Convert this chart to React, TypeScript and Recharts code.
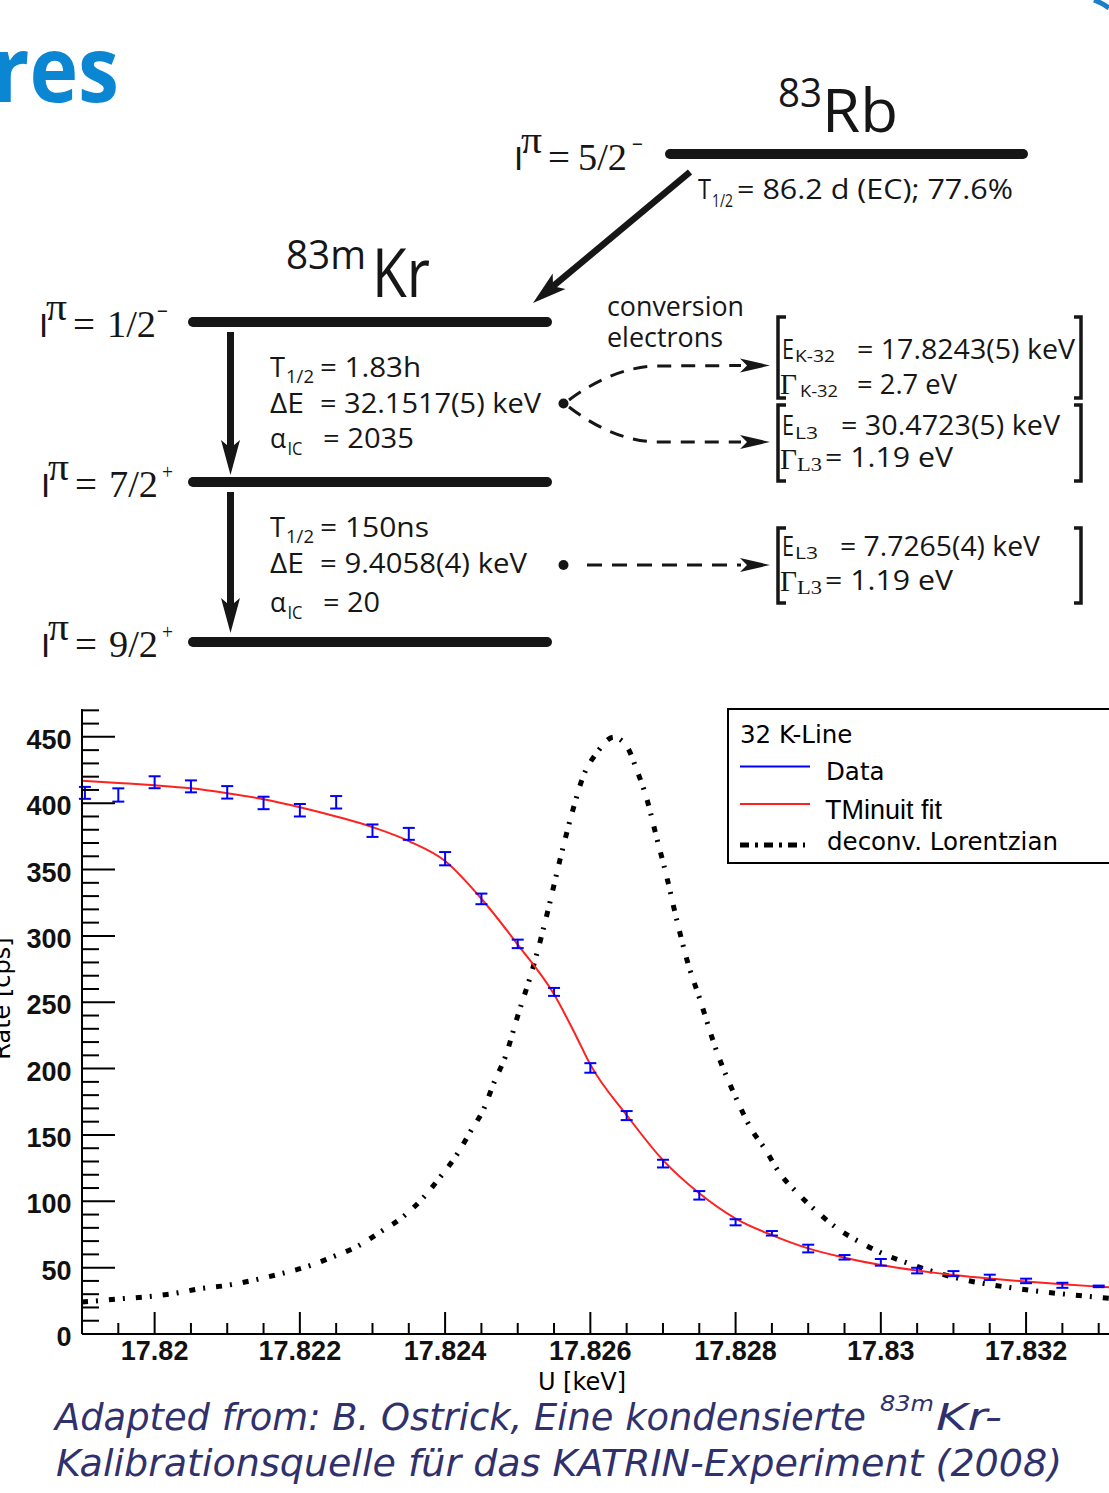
import React from 'react';
import { ComposedChart, Line, Scatter, ErrorBar, XAxis, YAxis, Legend } from 'recharts';

// ---------------- chart data ----------------
const X_MIN = 17.819;
const X_MAX = 17.8335;
const Y_MAX = 471;

const dataU = [17.81904, 17.8195, 17.82, 17.8205, 17.821, 17.8215, 17.822, 17.8225, 17.823, 17.8235, 17.824, 17.8245, 17.825, 17.8255, 17.826, 17.8265, 17.827, 17.8275, 17.828, 17.8285, 17.829, 17.8295, 17.83, 17.8305, 17.831, 17.8315, 17.832, 17.8325, 17.833];
const dataRate = [407.8, 406.2, 415.8, 412.7, 408.2, 400.2, 394.7, 400.7, 379.3, 376.9, 358.2, 327.9, 294.0, 257.8, 200.5, 164.6, 128.4, 104.5, 84.2, 75.9, 64.4, 57.8, 54.0, 47.8, 45.5, 42.7, 40.0, 36.7, 35.9];
const dataErr = [4.5, 5.0, 4.5, 4.5, 4.7, 4.7, 4.7, 4.7, 4.7, 4.5, 5.0, 4.0, 3.2, 3.0, 3.6, 3.4, 2.9, 3.2, 2.3, 1.7, 2.9, 1.7, 2.5, 2.1, 1.9, 2.0, 1.7, 1.9, 0.6];

const fitU = [17.819, 17.8195, 17.82, 17.8205, 17.821, 17.8215, 17.822, 17.8225, 17.823, 17.8235, 17.824, 17.8245, 17.825, 17.8255, 17.8258, 17.826, 17.8265, 17.827, 17.8275, 17.828, 17.8285, 17.829, 17.8295, 17.83, 17.8305, 17.831, 17.8315, 17.832, 17.8325, 17.833, 17.8335];
const fitRate = [417, 415.3, 413.5, 411.2, 407.5, 403, 397, 390, 382, 371.5, 356.5, 328, 293.5, 256, 225, 203, 165, 131, 106, 87, 74.5, 64.5, 57.5, 52, 47.8, 44.5, 41.8, 39.5, 37.5, 35.7, 34.3];

const lorU = [17.819, 17.81912, 17.8195, 17.81987, 17.82025, 17.82061, 17.82098, 17.82136, 17.82173, 17.82207, 17.82245, 17.82279, 17.8231, 17.82343, 17.8237, 17.82394, 17.82416, 17.82435, 17.82454, 17.82468, 17.82483, 17.82499, 17.82522, 17.82542, 17.82558, 17.82576, 17.8259, 17.82609, 17.82632, 17.8265, 17.82664, 17.82678, 17.82692, 17.82705, 17.82719, 17.82733, 17.82751, 17.82774, 17.82803, 17.82821, 17.82841, 17.82861, 17.82886, 17.82913, 17.82941, 17.82973, 17.83006, 17.83043, 17.83078, 17.83118, 17.83153, 17.83191, 17.83231, 17.83266, 17.83303, 17.8335];
const lorRate = [24.2, 24.6, 26.4, 28, 30.4, 34, 36.5, 40.5, 45.3, 50.3, 58.1, 66, 76.6, 88.7, 102.8, 118.8, 135, 152.7, 170.5, 190.4, 209, 238, 278, 320, 357, 395, 420, 438, 449.7, 443, 425, 402.7, 372.6, 345, 312, 282, 252, 213, 175, 155, 139, 121, 105.8, 91.7, 79.2, 68.7, 59.8, 52.3, 46, 40.5, 37, 34, 31.3, 29.4, 27.5, 25.5];

const xTicks = [17.819, 17.8195, 17.82, 17.8205, 17.821, 17.8215, 17.822, 17.8225, 17.823, 17.8235, 17.824, 17.8245, 17.825, 17.8255, 17.826, 17.8265, 17.827, 17.8275, 17.828, 17.8285, 17.829, 17.8295, 17.83, 17.8305, 17.831, 17.8315, 17.832, 17.8325, 17.833, 17.8335];
const xMajorTicks = [17.82, 17.822, 17.824, 17.826, 17.828, 17.83, 17.832];
const xMajorLabels = ['17.82', '17.822', '17.824', '17.826', '17.828', '17.83', '17.832'];
const yTicks = [0, 10, 20, 30, 40, 50, 60, 70, 80, 90, 100, 110, 120, 130, 140, 150, 160, 170, 180, 190, 200, 210, 220, 230, 240, 250, 260, 270, 280, 290, 300, 310, 320, 330, 340, 350, 360, 370, 380, 390, 400, 410, 420, 430, 440, 450, 460, 470];
const yMajorTicks = [0, 50, 100, 150, 200, 250, 300, 350, 400, 450];
const yMajorLabels = ['0', '50', '100', '150', '200', '250', '300', '350', '400', '450'];

const legendTitle = '32 K-Line';
const seriesNames = ['Data', 'TMinuit fit', 'deconv. Lorentzian'];
const xAxisTitle = 'U [keV]';
const yAxisTitle = 'Rate [cps]';

const pointData = dataU.map((u, i) => ({ u, r: dataRate[i], e: dataErr[i] }));
const fitData = fitU.map((u, i) => ({ u, r: fitRate[i] }));
const lorData = lorU.map((u, i) => ({ u, r: lorRate[i] }));

// ---------------- styles ----------------
const OPEN = "'Open Sans', 'DejaVu Sans', sans-serif";
const SERIF = "'Liberation Serif', 'DejaVu Serif', serif";
const LSANS = "'Liberation Sans', Arial, sans-serif";
const DJV = "'DejaVu Sans', sans-serif";
const INK = '#161616';
const FOOT = '#30316c';
const BLUE = '#0000ff';
const RED = '#ff2020';

const X_TICK_MARGIN = 4;
const Y_TICK_MARGIN = 10;

const renderXTick = (props: any) => {
  const { x, y, payload } = props;
  const axisY = y - X_TICK_MARGIN;
  const idx = xMajorTicks.findIndex((m) => Math.abs(m - payload.value) < 1e-7);
  const major = idx >= 0;
  return (
    <g>
      <line x1={x} x2={x} y1={axisY} y2={axisY - (major ? 22 : 11)} stroke="#000" strokeWidth={2} />
      {major && (
        <text x={x} y={axisY + 25.5} textAnchor="middle" fontFamily={LSANS} fontWeight="bold" fontSize={27} fill="#111">
          {xMajorLabels[idx]}
        </text>
      )}
    </g>
  );
};

const renderYTick = (props: any) => {
  const { x, y, payload } = props;
  const axisX = x + Y_TICK_MARGIN;
  const idx = yMajorTicks.findIndex((m) => Math.abs(m - payload.value) < 1e-7);
  const major = idx >= 0;
  return (
    <g>
      <line x1={axisX} x2={axisX + (major ? 33 : 17)} y1={y} y2={y} stroke="#000" strokeWidth={2} />
      {major && (
        <text x={axisX - 10.5} y={y + 12} textAnchor="end" fontFamily={LSANS} fontWeight="bold" fontSize={27} fill="#111">
          {yMajorLabels[idx]}
        </text>
      )}
    </g>
  );
};

const XTitle = (props: any) => {
  const vb = props.viewBox || { x: 82, y: 644 };
  return (
    <text x={vb.x + 500} y={vb.y + 56} textAnchor="middle" fontFamily={DJV} fontSize={24} fill="#000">
      {xAxisTitle}
    </text>
  );
};

const YTitle = (props: any) => {
  const vb = props.viewBox || { x: 0, y: 19, height: 625 };
  const cy = vb.y + vb.height / 2 - 23;
  return (
    <text transform={`translate(${vb.x + 10},${cy}) rotate(-90)`} textAnchor="middle" fontFamily={DJV} fontSize={24} fill="#000">
      {yAxisTitle}
    </text>
  );
};

const EmptyShape = () => <g />;

const renderLegend = () => (
  <svg width={420} height={160} style={{ display: 'block' }}>
    <rect x={1} y={1} width={440} height={154} fill="#fff" stroke="#000" strokeWidth={2} />
    <text x={13} y={35} fontFamily={DJV} fontSize={24.5} fill="#000">{legendTitle}</text>
    <line x1={13} x2={83} y1={58.5} y2={58.5} stroke={BLUE} strokeWidth={2} />
    <text x={99} y={72} fontFamily={DJV} fontSize={24.5} fill="#000">{seriesNames[0]}</text>
    <line x1={13} x2={83} y1={96} y2={96} stroke={RED} strokeWidth={2} />
    <text x={98} y={111} fontFamily={LSANS} fontSize={27} fill="#000">{seriesNames[1]}</text>
    <line x1={13} x2={78} y1={137} y2={137} stroke="#000" strokeWidth={5} strokeDasharray="9 6 3 6" />
    <text x={100} y={142} fontFamily={DJV} fontSize={24.5} fill="#000">{seriesNames[2]}</text>
  </svg>
);

// ---------------- decay scheme ----------------
type TP = { x: number; y: number; s: number; w?: number; f?: string; c?: string; t: string; it?: boolean; b?: boolean; a?: 'start' | 'middle' | 'end' };
const T = ({ x, y, s, w, f = OPEN, c = INK, t, it, b, a }: TP) => (
  <text
    x={x}
    y={y}
    fontSize={s}
    fontFamily={f}
    fill={c}
    fontStyle={it ? 'italic' : undefined}
    fontWeight={b ? 'bold' : undefined}
    textAnchor={a}
    textLength={w}
    lengthAdjust={w ? 'spacingAndGlyphs' : undefined}
  >
    {t}
  </text>
);

const Spin = ({ x, y, frac, sign, fx = 68 }: { x: number; y: number; frac: string; sign: string; fx?: number }) => (
  <g>
    <T x={x} y={y} s={33} f={LSANS} t="I" />
    <T x={x + 7} y={y - 17} s={37} f={SERIF} t="π" w={21} />
    <T x={x + 34} y={y} s={37} f={SERIF} t="=" w={22} />
    <T x={x + fx} y={y} s={37} f={SERIF} t={frac} w={49} />
    {sign === '+' ? (
      <T x={x + 121} y={y - 18} s={20} f={SERIF} t="+" w={11} />
    ) : (
      <T x={x + 118} y={y - 16.5} s={30} f={SERIF} t="−" w={11} />
    )}
  </g>
);

const Level = ({ x1, x2, y }: { x1: number; x2: number; y: number }) => (
  <line x1={x1} x2={x2} y1={y} y2={y} stroke={INK} strokeWidth={10} strokeLinecap="round" />
);

const VArrow = ({ x, y1, y2 }: { x: number; y1: number; y2: number }) => (
  <g>
    <line x1={x} x2={x} y1={y1} y2={y2 - 26} stroke={INK} strokeWidth={7} />
    <path d={`M${x},${y2} L${x - 9.5},${y2 - 35} L${x},${y2 - 27} L${x + 9.5},${y2 - 35} Z`} fill={INK} />
  </g>
);

const Stealth = ({ x, y }: { x: number; y: number }) => (
  <path d={`M${x},${y} L${x - 30},${y - 7} L${x - 23},${y} L${x - 30},${y + 7} Z`} fill={INK} />
);

const Bracket = ({ y1, y2 }: { y1: number; y2: number }) => (
  <g stroke={INK} strokeWidth={3.5} fill="none">
    <path d={`M786,${y1} L778,${y1} L778,${y2} L786,${y2}`} />
    <path d={`M1074,${y1} L1081,${y1} L1081,${y2} L1074,${y2}`} />
  </g>
);

const Diagram = () => (
  <svg width={1109} height={690} style={{ position: 'absolute', left: 0, top: 0 }}>
    <T x={-8} y={102} s={92} f={OPEN} b c="#0a86d2" t="res" w={127} />
    <path d="M1094,0 Q1102,3 1109,8" stroke="#1a7fc8" strokeWidth={5} fill="none" />

    {/* 83Rb */}
    <T x={778} y={107} s={40} t="83" w={44} />
    <T x={822} y={132} s={60} t="Rb" w={76} />
    <Level x1={670} x2={1023} y={154} />
    <Spin x={514} y={170} frac="5/2" sign="-" fx={64} />
    <T x={698} y={199} s={28} t="T" w={13} />
    <T x={712} y={207} s={18} t="1/2" w={21} />
    <T x={737} y={199} s={28} t="= 86.2 d (EC); 77.6%" w={276} />
    <line x1={690} y1={172} x2={553} y2={286.3} stroke={INK} strokeWidth={6.5} />
    <path d="M533,303 L565.5,288.9 L553,286.3 L552.7,273.5 Z" fill={INK} />

    {/* 83mKr */}
    <T x={286} y={269} s={40} t="83m" w={80} />
    <T x={372} y={297} s={68} t="Kr" w={58} />
    <Level x1={193} x2={547} y={322} />
    <Level x1={193} x2={547} y={482} />
    <Level x1={193} x2={547} y={642} />
    <Spin x={39} y={337} frac="1/2" sign="-" />
    <Spin x={41} y={497} frac="7/2" sign="+" />
    <Spin x={41} y={657} frac="9/2" sign="+" />

    <VArrow x={230.5} y1={332} y2={475} />
    <VArrow x={230.5} y1={492} y2={633} />

    {/* transition 1 */}
    <T x={270} y={377} s={27} t="T" w={15} />
    <T x={286} y={383} s={19} t="1/2" w={28} />
    <T x={320} y={377} s={27} t="= 1.83h" w={101} />
    <T x={270} y={413} s={27} t="ΔE" w={34} />
    <T x={320} y={413} s={27} t="= 32.1517(5) keV" w={221} />
    <T x={270} y={448} s={27} t="α" w={16} />
    <T x={287.5} y={455} s={18} t="IC" w={15} />
    <T x={323} y={448} s={27} t="= 2035" w={91} />

    {/* transition 2 */}
    <T x={270} y={537} s={27} t="T" w={15} />
    <T x={286} y={543} s={19} t="1/2" w={28} />
    <T x={320} y={537} s={27} t="= 150ns" w={109} />
    <T x={270} y={573} s={27} t="ΔE" w={34} />
    <T x={320} y={573} s={27} t="= 9.4058(4) keV" w={207} />
    <T x={270} y={612} s={27} t="α" w={16} />
    <T x={287.5} y={619} s={18} t="IC" w={15} />
    <T x={323} y={612} s={27} t="= 20" w={57} />

    {/* conversion electrons */}
    <T x={607} y={316} s={27} t="conversion" w={137} />
    <T x={607} y={347} s={27} t="electrons" w={116} />
    <circle cx={563.5} cy={403.5} r={5} fill={INK} />
    <path d="M569,400 Q612,368 655,366 L741,365.5" stroke={INK} strokeWidth={3} fill="none" strokeDasharray="14 10" />
    <path d="M569,407 Q612,440 655,442 L741,442" stroke={INK} strokeWidth={3} fill="none" strokeDasharray="14 10" />
    <Stealth x={770} y={365.5} />
    <Stealth x={770} y={442} />
    <circle cx={563.5} cy={565} r={5} fill={INK} />
    <path d="M587,565 L741,565" stroke={INK} strokeWidth={3} fill="none" strokeDasharray="15 10" />
    <Stealth x={770} y={565} />

    {/* line parameters */}
    <Bracket y1={317} y2={398} />
    <T x={782} y={358.5} s={27} t="E" w={12} />
    <T x={795} y={362} s={17} t="K-32" w={40} />
    <T x={857} y={358.5} s={27} t="= 17.8243(5) keV" w={218} />
    <T x={780} y={394} s={30} f={SERIF} t="Γ" w={17} />
    <T x={800} y={397} s={17} t="K-32" w={38} />
    <T x={857} y={393.5} s={27} t="= 2.7 eV" w={100} />

    <Bracket y1={405} y2={481} />
    <T x={782} y={435} s={27} t="E" w={12} />
    <T x={795} y={439} s={17} t="L3" w={23} />
    <T x={841} y={435} s={27} t="= 30.4723(5) keV" w={219} />
    <T x={780} y={468.5} s={30} f={SERIF} t="Γ" w={17} />
    <T x={797} y={471} s={18} f={SERIF} t="L3" w={25} />
    <T x={825} y={467} s={27} t="= 1.19 eV" w={128} />

    <Bracket y1={528} y2={603} />
    <T x={782} y={555.5} s={27} t="E" w={12} />
    <T x={795} y={559} s={17} t="L3" w={23} />
    <T x={840} y={555.5} s={27} t="= 7.7265(4) keV" w={200} />
    <T x={780} y={591} s={30} f={SERIF} t="Γ" w={17} />
    <T x={797} y={594} s={18} f={SERIF} t="L3" w={25} />
    <T x={825} y={590} s={27} t="= 1.19 eV" w={128} />
  </svg>
);

const Footer = () => (
  <svg width={1109} height={103} style={{ position: 'absolute', left: 0, top: 1390 }}>
    <T x={55} y={40} s={38} f={DJV} it c={FOOT} t="Adapted from: B. Ostrick, Eine kondensierte" w={811} />
    <T x={880} y={21} s={21} f={DJV} it c={FOOT} t="83m" w={54} />
    <T x={936} y={40} s={38} f={DJV} it c={FOOT} t="Kr-" w={66} />
    <T x={56} y={86} s={38} f={DJV} it c={FOOT} t="Kalibrationsquelle für das KATRIN-Experiment (2008)" w={1006} />
  </svg>
);

export default function App() {
  return (
    <div style={{ position: 'absolute', left: 0, top: 0, width: 1109, height: 1493, overflow: 'hidden', background: '#fff' }}>
      <Diagram />
      <div style={{ position: 'absolute', left: 0, top: 690 }}>
        <ComposedChart width={1160} height={705} margin={{ top: 19, right: 25, bottom: 0, left: 0 }}>
          <XAxis
            xAxisId="top"
            orientation="top"
            type="number"
            dataKey="u"
            domain={[X_MIN, X_MAX]}
            allowDataOverflow
            tick={false}
            tickLine={false}
            axisLine={{ stroke: '#000', strokeWidth: 2 }}
            height={0}
          />
          <XAxis
            type="number"
            dataKey="u"
            domain={[X_MIN, X_MAX]}
            allowDataOverflow
            ticks={xTicks}
            interval={0}
            tickSize={0}
            tickMargin={X_TICK_MARGIN}
            tick={renderXTick}
            tickLine={false}
            axisLine={{ stroke: '#000', strokeWidth: 2 }}
            height={61}
            label={<XTitle />}
          />
          <YAxis
            type="number"
            domain={[0, Y_MAX]}
            allowDataOverflow
            ticks={yTicks}
            interval={0}
            tickSize={0}
            tickMargin={Y_TICK_MARGIN}
            tick={renderYTick}
            tickLine={false}
            axisLine={{ stroke: '#000', strokeWidth: 2 }}
            width={82}
            label={<YTitle />}
          />
          <Legend
            layout="vertical"
            align="center"
            verticalAlign="middle"
            content={renderLegend}
            wrapperStyle={{ position: 'absolute', left: 727, top: 18, width: 420, height: 160, margin: 0, padding: 0 }}
          />
          <Line
            data={lorData}
            dataKey="r"
            name={seriesNames[2]}
            type="monotone"
            stroke="#000"
            strokeWidth={5}
            strokeDasharray="6 8 2 11"
            dot={false}
            activeDot={false}
            isAnimationActive={false}
          />
          <Line
            data={fitData}
            dataKey="r"
            name={seriesNames[1]}
            type="monotone"
            stroke={RED}
            strokeWidth={2}
            dot={false}
            activeDot={false}
            isAnimationActive={false}
          />
          <Scatter data={pointData} dataKey="r" name={seriesNames[0]} shape={<EmptyShape />} isAnimationActive={false}>
            <ErrorBar dataKey="e" direction="y" width={6} strokeWidth={2} stroke={BLUE} isAnimationActive={false} />
          </Scatter>
        </ComposedChart>
      </div>
      <Footer />
    </div>
  );
}
